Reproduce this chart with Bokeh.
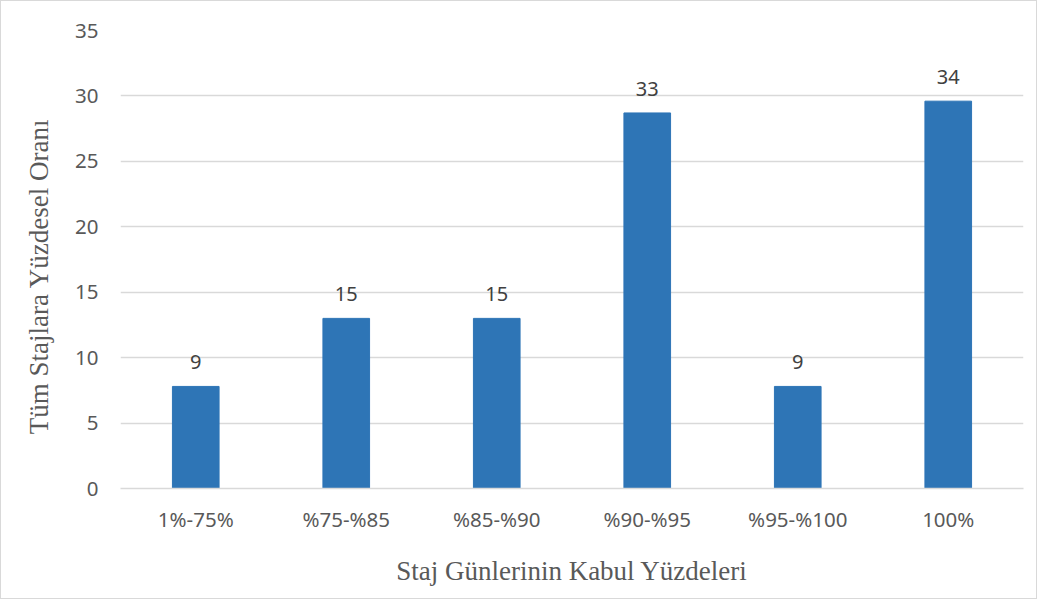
from bokeh.plotting import figure
from bokeh.models import ColumnDataSource, FactorRange, Range1d, SingleIntervalTicker
from bokeh.core.properties import value
from bokeh.embed import file_html
from bokeh.resources import INLINE

categories = ["1%-75%", "%75-%85", "%85-%90", "%90-%95", "%95-%100", "100%"]
percentages = [7.8, 13.0, 13.0, 28.7, 7.8, 29.6]
counts = ["9", "15", "15", "33", "9", "34"]

src = ColumnDataSource(dict(cat=categories, pct=percentages, lbl=counts))

p = figure(width=1037, height=599, x_range=FactorRange(*categories), y_range=Range1d(0, 35),
           output_backend="svg", toolbar_location=None,
           min_border_left=119, min_border_right=15, min_border_top=29, min_border_bottom=112)
p.styles = {"border": "1px solid #d9d9d9", "box-sizing": "border-box"}
p.outline_line_color = None

p.vbar(x="cat", top="pct", width=0.31, source=src, fill_color="#2e75b6", line_color="#2e75b6")
p.text(x="cat", y="pct", text="lbl", source=src, text_align="center", text_baseline="bottom",
       y_offset=-17, text_font=value("Noto Sans"), text_font_size="20px", text_color="#404040")

p.yaxis.ticker = SingleIntervalTicker(interval=5)
p.ygrid.grid_line_color = "#d9d9d9"
p.ygrid.grid_line_width = 1.5
p.xgrid.grid_line_color = None

for ax in (p.xaxis, p.yaxis):
    ax.major_tick_line_color = None
    ax.minor_tick_line_color = None
    ax.major_label_text_font = "Noto Sans"
    ax.major_label_text_font_size = "20.5px"
    ax.major_label_text_color = "#595959"
    ax.axis_label_text_font = "Liberation Serif"
    ax.axis_label_text_font_size = "27px"
    ax.axis_label_text_font_style = "normal"
    ax.axis_label_text_color = "#595959"
p.yaxis.axis_line_color = None
p.xaxis.axis_line_color = "#d9d9d9"
p.xaxis.axis_line_width = 1.5
p.yaxis.major_label_standoff = 16
p.xaxis.major_label_standoff = 10
p.yaxis.axis_label = "Tüm Stajlara Yüzdesel Oranı" + "\u00a0" * 5
p.xaxis.axis_label = "Staj Günlerinin Kabul Yüzdeleri"
p.yaxis.axis_label_standoff = 18
p.xaxis.axis_label_standoff = 20

open("out.html", "w").write(file_html(p, INLINE))
